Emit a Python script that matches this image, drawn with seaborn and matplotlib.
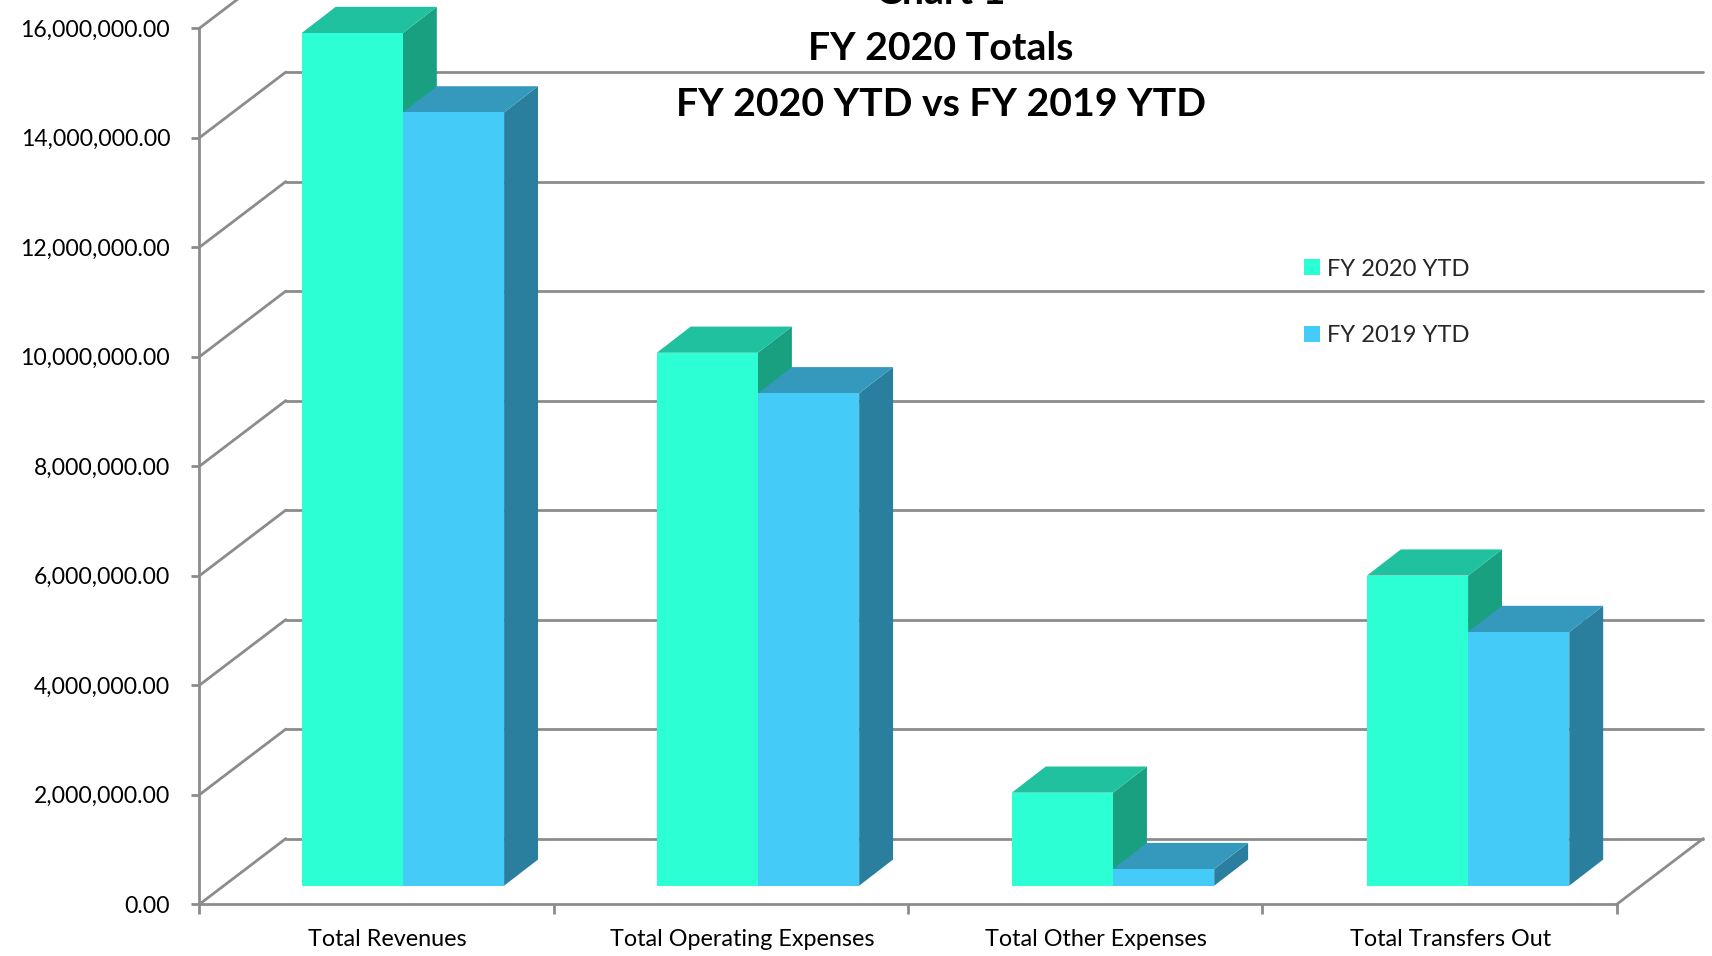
import pandas as pd
import numpy as np
import matplotlib
matplotlib.use('Agg')
import matplotlib.pyplot as plt
import seaborn as sns

# values
categories = ['Total Revenues', 'Total Operating Expenses', 'Total Other Expenses', 'Total Transfers Out']
fy2020 = [15574000, 9734000, 1699000, 5664000]
fy2019 = [14124000, 8994000, 304000, 4634000]
series_names = ['FY 2020 YTD', 'FY 2019 YTD']
y_ticks = [0, 2000000, 4000000, 6000000, 8000000, 10000000, 12000000, 14000000, 16000000]
title_lines = ['Chart 1', 'FY 2020 Totals', 'FY 2020 YTD vs FY 2019 YTD']

front_colors = ['#2BFFD3', '#45CBF8']
top_colors = ['#20C19F', '#3499BC']
side_colors = ['#19A081', '#2A7F9E']
grid_color = '#8C8C8C'

sns.set_theme(style='white')
plt.rcParams['font.family'] = ['Lato', 'DejaVu Sans']

df = pd.DataFrame({
    'Category': categories * 2,
    'Value': fy2020 + fy2019,
    'Series': [series_names[0]] * 4 + [series_names[1]] * 4,
})

fig = plt.figure(figsize=(17.12, 9.56), dpi=100)
ax = fig.add_axes([0, 0, 1, 1])
ax.patch.set_alpha(0)

sns.barplot(data=df, x='Category', y='Value', hue='Series', hue_order=series_names,
            palette=front_colors, width=0.57, gap=0, saturation=1, linewidth=0, ax=ax, zorder=5)

# fake 3D offsets, in data units
bar_dx = 0.0955
bar_dy = 478000
front_dx = -0.0732
front_dy = -339000
back_dx = 0.1703
back_dy = 861000
axis_span = 3.992

# side and top faces built from the bars seaborn drew
bars = [p for p in ax.patches if p.get_height() > 0]
for i, bar in enumerate(bars):
    s = i // 4
    x0 = bar.get_x()
    x1 = x0 + bar.get_width()
    h = bar.get_height()
    ax.fill([x1, x1 + bar_dx, x1 + bar_dx, x1], [0, bar_dy, h + bar_dy, h],
            color=side_colors[s], lw=0, zorder=2 + s)
    ax.fill([x0, x1, x1 + bar_dx, x0 + bar_dx], [h, h, h + bar_dy, h + bar_dy],
            color=top_colors[s], lw=0, zorder=2 + s)

# walls and floor
left = -0.5 + front_dx
right = left + axis_span
back_left = -0.5 + back_dx
back_right = back_left + axis_span
for v in y_ticks:
    ax.plot([left, back_left], [v + front_dy, v + back_dy], color=grid_color, lw=2, zorder=1)
    if v < y_ticks[-1]:
        ax.plot([back_left, back_right], [v + back_dy, v + back_dy], color=grid_color, lw=2, zorder=1)
ax.plot([right, back_right], [front_dy, back_dy], color=grid_color, lw=2, zorder=1)

ax.set_xlim(-1.1348, 3.687)
ax.set_ylim(-1284000, 16177000)

for side in ['top', 'right']:
    ax.spines[side].set_visible(False)
ax.spines['left'].set_position(('data', left))
ax.spines['bottom'].set_position(('data', front_dy))
ax.spines['left'].set_bounds(front_dy, y_ticks[-1] + front_dy)
ax.spines['bottom'].set_bounds(left, right)
for side in ['left', 'bottom']:
    ax.spines[side].set_color(grid_color)
    ax.spines[side].set_linewidth(2)

ax.set_yticks([v + front_dy for v in y_ticks], labels=[f'{v:,.2f}' for v in y_ticks])
ax.tick_params(axis='y', length=6, width=2, color=grid_color, pad=15, labelsize=16.6, labelcolor='black', left=True)

step = axis_span / len(categories)
edges = [left + i * step for i in range(len(categories) + 1)]
ax.set_xticks(edges, labels=[''] * len(edges))
ax.set_xticks([e + step / 2 + 0.031 for e in edges[:-1]], labels=categories, minor=True)
ax.tick_params(axis='x', which='major', length=7, width=2, color=grid_color, bottom=True)
ax.tick_params(axis='x', which='minor', length=0, pad=18, labelsize=16.8, labelcolor='black')
ax.set_xlabel('')
ax.set_ylabel('')

for line, y in zip(title_lines, [-8, 48, 105]):
    fig.text(941 / 1712, 1 - y / 956, line, ha='center', va='center', fontsize=28.3,
             fontweight='bold', color='black')

handles, labels = ax.get_legend_handles_labels()
ax.legend(handles, labels, loc='center left', bbox_to_anchor=(1304 / 1712, 1 - 302.5 / 956),
          frameon=False, fontsize=17.1, handlelength=0.68, handleheight=0.68,
          handletextpad=0.3, labelspacing=1.93, borderpad=0, borderaxespad=0)

fig.savefig('out.png', dpi=100)
